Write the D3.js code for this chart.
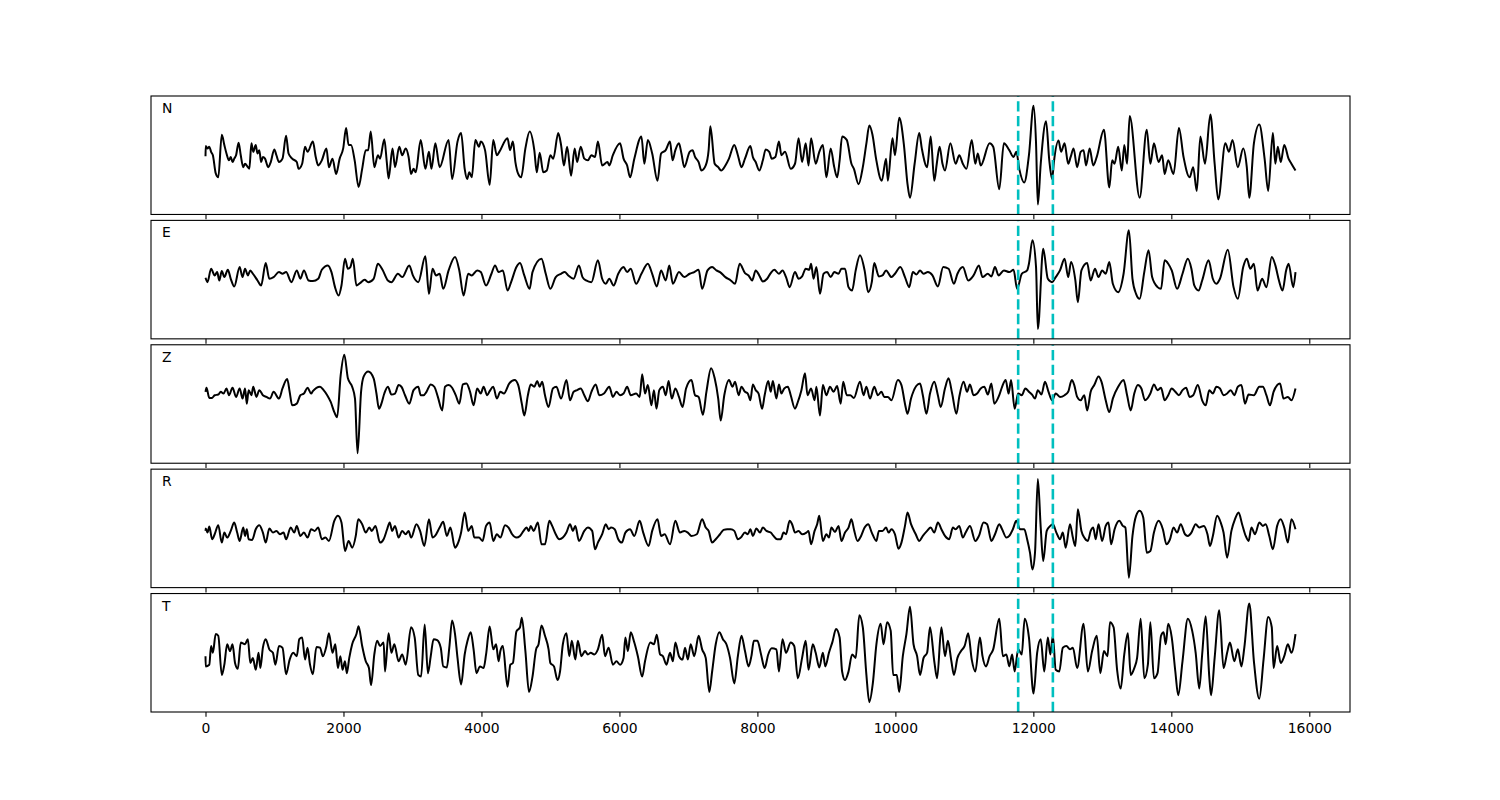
<!DOCTYPE html>
<html>
<head>
<meta charset="utf-8">
<script src="https://cdn.jsdelivr.net/npm/d3@7"></script>
<style>
  body { margin: 0; background: #fff; }
  text { font-family: "DejaVu Sans", sans-serif; }
</style>
</head>
<body>
<div id="container"></div>
<script>
let w = 1500;
let h = 800;

// channel names, top to bottom
let channels = ["N", "E", "Z", "R", "T"];
// the two picks (sample index)
let picks = [11780, 12283];
let xTicks = [0, 2000, 4000, 6000, 8000, 10000, 12000, 14000, 16000];

// [sample, amplitude] (local peaks and troughs)
let traceN = [
[0,-8],[3,22],[29,15],[55,20],[81,5],[107,-5],[148,-58],[185,-70],[236,55],[273,25],[304,0],[340,-20],[366,-10],[392,-25],[417,-15],[443,-5],[480,32],[511,-5],[547,-40],[573,-30],[614,-40],[635,-45],[666,30],[692,5],[728,25],[754,0],[780,10],[806,-25],[832,-10],[863,-15],[909,-40],[946,-25],[997,12],[1028,-5],[1065,-25],[1116,-15],[1168,52],[1204,0],[1256,-15],[1323,-25],[1349,-45],[1401,-30],[1443,20],[1479,5],[1556,35],[1598,-10],[1634,-35],[1686,-20],[1753,15],[1789,-40],[1841,-15],[1893,-60],[1945,-15],[1996,15],[2038,75],[2074,25],[2110,25],[2162,-20],[2219,-98],[2271,-45],[2323,10],[2359,10],[2395,65],[2447,-40],[2499,-5],[2530,-15],[2592,42],[2628,-25],[2654,-73],[2711,15],[2747,-40],[2809,20],[2851,-5],[2902,15],[2944,-10],[2980,-60],[3016,-45],[3047,-55],[3120,40],[3187,-45],[3239,5],[3275,-45],[3332,30],[3394,-40],[3524,40],[3575,-75],[3653,35],[3705,60],[3757,-45],[3793,-75],[3824,-55],[3860,-70],[3912,40],[3964,20],[3990,35],[4052,10],[4119,-92],[4171,40],[4223,-5],[4259,5],[4378,45],[4414,10],[4456,35],[4492,-25],[4533,-60],[4575,-70],[4637,15],[4699,65],[4766,10],[4802,-55],[4844,2],[4896,-55],[4947,-50],[4999,-5],[5041,-15],[5113,60],[5154,25],[5196,-35],[5242,20],[5299,-65],[5351,15],[5387,-25],[5439,20],[5491,-15],[5543,-20],[5594,-5],[5646,-10],[5688,35],[5750,-35],[5827,-25],[5853,-35],[5905,-5],[6009,30],[6060,-15],[6112,-35],[6154,-70],[6216,-15],[6319,50],[6361,-30],[6412,40],[6475,0],[6552,-80],[6604,0],[6671,10],[6733,35],[6770,-20],[6811,10],[6863,30],[6899,0],[6940,-40],[7018,5],[7060,10],[7096,-10],[7148,-25],[7189,-50],[7251,-35],[7293,10],[7318,80],[7381,-30],[7432,-40],[7474,-50],[7536,-35],[7588,-15],[7665,25],[7717,-5],[7769,-40],
[7820,-15],[7898,22],[7934,-10],[7975,-25],[8027,-50],[8079,-20],[8120,12],[8172,5],[8208,-15],[8260,-10],[8312,35],[8348,-5],[8400,5],[8483,-45],[8545,-30],[8597,45],[8648,-25],[8700,30],[8741,-35],[8778,45],[8845,-30],[8897,5],[8949,25],[9000,-70],[9062,15],[9114,-40],[9156,-70],[9192,-20],[9228,50],[9295,40],[9363,-30],[9399,-45],[9466,-90],[9528,-40],[9580,30],[9622,82],[9668,55],[9720,-15],[9803,-80],[9865,-15],[9891,-80],[9958,45],[9994,-5],[10056,105],[10124,25],[10176,-90],[10212,-130],[10279,-30],[10346,60],[10383,15],[10460,-40],[10512,50],[10564,-80],[10600,-30],[10641,20],[10683,-30],[10719,-50],[10797,30],[10874,-30],[10926,-5],[10978,-30],[11030,-45],[11107,40],[11159,-30],[11195,0],[11237,-35],[11366,30],[11418,20],[11506,-105],[11573,30],[11651,10],[11713,-10],[11754,5],[11796,-45],[11868,-85],[11936,-5],[12003,140],[12039,30],[12065,-150],[12107,-30],[12184,95],[12231,-20],[12272,-75],[12298,-25],[12365,38],[12402,5],[12453,30],[12505,-30],[12541,-10],[12583,15],[12635,-40],[12686,5],[12728,10],[12764,-35],[12816,15],[12868,-35],[12919,-10],[13023,70],[13101,-100],[13142,-20],[13178,-30],[13230,20],[13282,-50],[13318,25],[13359,-30],[13396,110],[13541,-130],[13644,70],[13696,-30],[13748,30],[13815,-25],[13867,-5],[13903,-60],[13955,-20],[14032,-60],[14110,75],[14177,-10],[14265,-70],[14317,-40],[14369,-110],[14421,50],[14488,-30],[14566,115],[14628,-30],[14680,-135],[14783,30],[14835,5],[14887,40],[14964,-40],[15042,15],[15094,-40],[15130,-130],[15197,30],[15275,85],[15352,-15],[15404,-110],[15472,60],[15508,-30],[15544,20],[15586,-25],[15637,25],[15699,-15],[15741,-30],[15800,-50]
];

let traceE = [
[0,-2],[29,-15],[81,25],[133,5],[169,15],[200,-10],[236,18],[273,0],[324,22],[366,-5],[417,-28],[495,30],[537,0],[573,25],[614,5],[650,20],[687,10],[754,-10],[806,-25],[873,42],[925,-5],[987,0],[1065,15],[1116,10],[1168,15],[1246,-15],[1323,20],[1375,-5],[1427,20],[1494,-10],[1556,-12],[1634,-5],[1686,22],[1774,35],[1826,15],[1877,-30],[1929,-55],[1971,-25],[2022,55],[2064,25],[2100,30],[2136,55],[2188,-25],[2240,-18],[2307,-8],[2359,-15],[2437,-5],[2499,40],[2566,22],[2644,-10],[2695,-15],[2789,10],[2851,0],[2954,35],[3006,5],[3084,-15],[3187,62],[3239,-50],[3291,25],[3342,5],[3394,10],[3446,-35],[3524,20],[3617,60],[3679,20],[3741,-55],[3808,10],[3860,5],[3938,20],[3990,15],[4067,-25],[4145,10],[4197,35],[4248,15],[4310,20],[4378,-40],[4430,-15],[4507,30],[4559,42],[4621,5],[4699,-35],[4740,15],[4870,55],[4932,10],[4999,-35],[5077,0],[5154,10],[5206,15],[5258,5],[5336,-5],[5413,35],[5465,0],[5517,-10],[5594,-15],[5688,50],[5750,-5],[5802,-20],[5853,-5],[5916,-25],[5983,10],[6060,30],[6112,15],[6164,25],[6242,-20],[6319,10],[6412,40],[6475,10],[6542,-28],[6604,20],[6671,-10],[6723,35],[6775,-20],[6863,15],[6940,0],[7018,10],[7085,15],[7148,22],[7199,-35],[7277,20],[7344,30],[7406,20],[7458,15],[7536,0],[7614,-10],[7676,-20],[7743,40],
[7820,12],[7872,5],[7924,-10],[7975,20],[8027,5],[8079,-13],[8141,-5],[8193,12],[8245,22],[8312,10],[8364,20],[8415,0],[8467,-30],[8545,15],[8597,-5],[8648,2],[8700,25],[8752,22],[8778,40],[8814,-5],[8855,30],[8907,-50],[8959,10],[9011,15],[9062,0],[9114,15],[9176,10],[9218,25],[9270,25],[9321,-30],[9373,-40],[9425,20],[9487,65],[9554,20],[9606,-45],[9658,-15],[9694,42],[9761,2],[9813,5],[9865,20],[9943,0],[9994,10],[10072,30],[10139,0],[10201,-30],[10253,15],[10305,8],[10357,20],[10409,10],[10471,15],[10538,5],[10616,-28],[10693,30],[10771,25],[10849,-20],[10900,10],[10978,30],[11056,-10],[11133,5],[11211,35],[11263,0],[11340,10],[11392,2],[11444,30],[11496,5],[11573,20],[11651,15],[11713,22],[11765,-35],[11832,10],[11910,20],[11936,40],[11987,110],[12039,30],[12065,-155],[12143,85],[12210,-5],[12272,-15],[12324,0],[12386,20],[12453,55],[12505,0],[12547,45],[12609,-10],[12645,-75],[12697,20],[12780,42],[12831,-10],[12893,25],[12945,0],[12997,20],[13049,10],[13101,45],[13152,-20],[13230,-45],[13308,10],[13385,140],[13437,-5],[13489,-50],[13541,-65],[13608,15],[13670,80],[13722,0],[13800,-30],[13851,-35],[13903,50],[13955,40],[14006,20],[14084,-35],[14162,10],[14239,55],[14291,25],[14333,-25],[14395,-40],[14447,-10],[14540,50],[14602,-5],[14653,-20],[14705,-5],[14819,82],[14902,-30],[14964,-65],[15042,30],[15094,55],[15145,25],[15197,40],[15249,-40],[15316,-5],[15378,-30],[15456,60],[15508,35],[15560,-10],[15612,-40],[15664,20],[15700,40],[15767,-30],[15800,15]
];

let traceZ = [
[0,30],[14,42],[55,12],[96,12],[133,20],[185,22],[221,30],[262,25],[304,40],[340,20],[392,42],[443,15],[495,40],[537,10],[573,40],[599,-5],[625,35],[666,20],[692,45],[738,15],[780,35],[832,20],[883,15],[935,10],[987,30],[1065,10],[1116,40],[1184,68],[1220,30],[1256,-10],[1323,-5],[1375,20],[1427,25],[1479,42],[1531,25],[1556,32],[1608,42],[1660,45],[1712,35],[1764,20],[1815,0],[1867,-30],[1908,-45],[1960,80],[2012,140],[2064,70],[2126,45],[2167,10],[2204,-152],[2255,30],[2292,75],[2359,90],[2437,70],[2478,25],[2514,-20],[2550,-5],[2592,25],[2644,45],[2695,22],[2747,25],[2799,50],[2840,45],[2892,20],[2954,-5],[3016,35],[3084,45],[3120,20],[3161,20],[3203,30],[3265,52],[3317,45],[3368,15],[3431,-25],[3472,45],[3524,50],[3575,42],[3627,20],[3679,-5],[3731,52],[3783,55],[3835,30],[3886,-10],[3938,40],[3990,25],[4031,45],[4083,20],[4119,32],[4171,45],[4223,10],[4274,30],[4326,25],[4404,55],[4481,65],[4533,50],[4585,-5],[4621,-40],[4673,20],[4714,52],[4766,45],[4808,62],[4844,45],[4880,60],[4921,20],[4973,-15],[5035,40],[5087,45],[5154,10],[5232,65],[5284,5],[5336,30],[5387,35],[5439,40],[5491,20],[5543,2],[5594,30],[5656,52],[5708,20],[5776,25],[5853,45],[5905,15],[5957,30],[6009,20],[6060,25],[6112,45],[6164,20],[6242,25],[6293,15],[6330,82],[6371,25],[6412,50],[6464,-10],[6500,35],[6537,-20],[6578,35],[6630,45],[6671,20],[6713,62],[6759,10],[6811,40],[6863,15],[6915,-15],[6966,40],[7044,65],[7096,20],[7148,15],[7210,-38],[7261,30],[7329,100],[7381,70],[7432,10],[7468,-55],[7520,20],[7588,65],[7639,45],[7676,60],[7728,20],[7769,45],
[7820,30],[7861,25],[7898,5],[7934,52],[7975,35],[8017,25],[8068,-20],[8105,20],[8157,62],[8193,30],[8224,62],[8276,10],[8312,52],[8348,25],[8389,40],[8441,45],[8483,20],[8545,-20],[8586,0],[8638,35],[8690,85],[8726,20],[8778,40],[8829,5],[8855,45],[8907,-40],[8949,50],[9000,20],[9052,45],[9104,30],[9156,47],[9207,-5],[9244,60],[9295,20],[9347,20],[9399,12],[9487,60],[9539,20],[9580,45],[9632,10],[9694,45],[9746,20],[9798,30],[9839,15],[9891,15],[9943,5],[10036,65],[10088,50],[10139,-5],[10176,-35],[10227,10],[10305,48],[10357,55],[10398,20],[10450,-35],[10502,25],[10564,60],[10616,20],[10657,-15],[10719,40],[10771,70],[10823,25],[10885,-35],[10926,15],[10988,60],[11040,30],[11081,52],[11133,20],[11185,25],[11237,40],[11289,45],[11340,22],[11392,55],[11433,-5],[11506,20],[11547,45],[11599,65],[11641,25],[11677,65],[11729,-20],[11780,25],[11832,20],[11884,40],[11936,30],[11987,20],[12024,10],[12065,35],[12117,22],[12169,60],[12220,30],[12272,5],[12324,25],[12386,15],[12453,20],[12505,30],[12557,65],[12593,50],[12635,15],[12686,5],[12738,20],[12780,-25],[12831,30],[12883,50],[12945,75],[12987,60],[13049,5],[13101,-30],[13152,10],[13230,45],[13308,65],[13359,20],[13411,-25],[13463,25],[13515,50],[13566,40],[13618,5],[13696,25],[13748,52],[13800,35],[13851,42],[13903,5],[13955,20],[14006,40],[14058,30],[14110,20],[14162,35],[14214,42],[14265,15],[14317,20],[14384,50],[14447,5],[14498,-10],[14550,35],[14602,25],[14653,45],[14705,40],[14757,20],[14809,25],[14861,35],[14913,20],[14964,45],[15016,50],[15068,-5],[15120,22],[15197,20],[15275,45],[15327,45],[15378,20],[15430,-10],[15482,30],[15534,50],[15575,55],[15627,10],[15689,15],[15741,5],[15800,40]
];

let traceR = [
[0,-15],[3,-8],[29,-20],[55,-2],[96,-40],[133,-25],[185,2],[236,-50],[273,-20],[314,-35],[366,-15],[417,10],[459,-20],[495,-45],[547,-5],[573,-30],[599,-10],[625,-40],[676,-42],[728,-10],[780,2],[832,-20],[873,-50],[925,-8],[977,-20],[1028,-15],[1080,-25],[1132,-20],[1168,-40],[1235,-5],[1287,-20],[1323,0],[1375,-30],[1427,-20],[1479,-35],[1531,-10],[1582,-15],[1634,-5],[1686,-40],[1738,-35],[1789,-45],[1867,15],[1919,30],[1971,10],[2022,-75],[2074,-45],[2126,-65],[2178,-30],[2214,20],[2271,5],[2323,-20],[2374,-5],[2411,-15],[2463,0],[2530,-50],[2582,-40],[2633,-10],[2670,10],[2706,-15],[2747,0],[2799,-35],[2851,-15],[2902,-25],[2944,-15],[2980,-35],[3058,5],[3110,-15],[3172,-60],[3239,20],[3291,-35],[3327,-30],[3394,-5],[3446,12],[3498,-30],[3550,-5],[3617,-65],[3653,-55],[3705,-20],[3757,40],[3808,-15],[3860,0],[3896,-35],[3964,-35],[4016,-45],[4067,0],[4119,10],[4171,-45],[4223,-25],[4274,-35],[4342,2],[4393,-5],[4445,-25],[4507,-35],[4559,-30],[4611,-15],[4652,-5],[4688,-15],[4714,0],[4756,-15],[4818,10],[4870,-55],[4921,-55],[4984,15],[5025,0],[5077,-25],[5128,-40],[5180,-35],[5232,-20],[5284,5],[5325,-15],[5361,0],[5413,-45],[5491,-15],[5543,-5],[5605,-15],[5646,-70],[5688,-50],[5750,-25],[5802,5],[5843,-10],[5879,-5],[5931,-10],[5983,-40],[6035,-50],[6086,-20],[6154,-10],[6216,-30],[6293,15],[6345,-20],[6423,-60],[6475,-15],[6552,20],[6604,-30],[6656,-25],[6733,-55],[6811,15],[6878,-20],[6940,-15],[6992,-20],[7044,-30],[7122,-25],[7199,20],[7251,-5],[7293,-15],[7344,-50],[7396,-40],[7458,-25],[7510,-12],[7562,-10],[7614,-10],[7665,-15],[7717,-40],[7759,-35],
[7820,-20],[7861,-25],[7898,-10],[7934,-30],[7986,-8],[8037,-20],[8079,-5],[8131,-15],[8193,-20],[8234,-30],[8286,-40],[8338,-40],[8379,-20],[8415,-25],[8467,15],[8503,5],[8545,-20],[8597,-15],[8648,-25],[8710,-20],[8741,-15],[8778,-55],[8829,-15],[8866,5],[8897,30],[8949,-45],[9000,-25],[9037,-35],[9073,-5],[9125,-18],[9176,0],[9218,-45],[9270,-20],[9321,-5],[9363,20],[9399,-10],[9451,-45],[9503,-30],[9554,-5],[9606,5],[9658,-20],[9725,-45],[9761,-15],[9813,-15],[9865,-5],[9901,-20],[9943,-10],[9994,-25],[10046,-68],[10088,-50],[10139,0],[10176,40],[10227,5],[10295,-25],[10346,-45],[10398,-30],[10460,-15],[10512,-5],[10564,-20],[10616,10],[10667,-10],[10719,-30],[10781,-40],[10833,-5],[10874,-10],[10926,0],[10978,-35],[11019,-20],[11081,0],[11159,-45],[11211,-30],[11278,10],[11330,5],[11392,-45],[11444,-25],[11506,5],[11547,-10],[11609,-35],[11651,-30],[11703,-10],[11754,15],[11806,-10],[11868,-10],[11910,-40],[11951,-80],[11987,-130],[12024,-80],[12065,140],[12107,-5],[12143,-105],[12194,-15],[12246,0],[12283,5],[12334,-20],[12386,-40],[12427,-20],[12469,-65],[12531,5],[12573,-35],[12609,-60],[12645,50],[12697,-15],[12738,-35],[12790,-45],[12831,-15],[12868,-5],[12904,-40],[12945,5],[12997,-45],[13049,0],[13090,10],[13127,-55],[13178,-10],[13246,15],[13297,0],[13334,-5],[13385,-155],[13437,-30],[13489,30],[13541,45],[13593,25],[13644,-80],[13696,-75],[13748,-20],[13815,15],[13877,-10],[13929,-55],[13981,-40],[14032,-5],[14084,-20],[14136,5],[14198,-25],[14239,-30],[14291,-20],[14353,5],[14405,-5],[14472,0],[14524,-25],[14560,-60],[14602,-30],[14664,30],[14716,10],[14757,-20],[14809,-95],[14871,-15],[14923,20],[14975,40],[15026,5],[15078,-30],[15120,-45],[15161,-5],[15213,-25],[15275,10],[15327,0],[15368,5],[15420,-30],[15472,-70],[15534,0],[15586,20],[15637,-5],[15689,-50],[15741,20],[15800,-10]
];

let traceT = [
[0,-15],[3,-45],[55,-40],[81,15],[107,-5],[148,50],[185,45],[236,-70],[273,-40],[314,20],[355,0],[392,20],[428,-35],[469,-52],[511,25],[573,20],[614,35],[650,-35],[687,-20],[728,-55],[769,-5],[795,-50],[832,10],[873,35],[925,5],[977,-5],[1013,-40],[1065,15],[1116,10],[1168,-68],[1220,-25],[1272,-5],[1323,-15],[1360,35],[1401,40],[1443,-25],[1479,10],[1515,-40],[1556,-68],[1608,12],[1660,10],[1701,-15],[1753,15],[1789,52],[1841,-5],[1882,20],[1919,-50],[1955,-15],[1986,-55],[2022,-30],[2048,-65],[2084,-20],[2126,20],[2188,50],[2219,73],[2271,15],[2323,-30],[2369,-50],[2400,-100],[2447,-10],[2488,30],[2530,15],[2582,25],[2602,-60],[2654,52],[2695,-5],[2737,20],[2799,-30],[2851,-10],[2902,-40],[2980,70],[3032,40],[3084,-70],[3125,-75],[3177,78],[3224,-65],[3265,-15],[3306,35],[3358,32],[3410,10],[3446,-45],[3498,-48],[3534,10],[3575,90],[3617,50],[3653,-20],[3705,-98],[3757,-10],[3798,30],[3845,55],[3886,5],[3928,-65],[3979,-45],[4031,-50],[4067,-10],[4119,72],[4171,5],[4212,20],[4248,-30],[4274,0],[4310,15],[4378,-105],[4419,-40],[4456,-35],[4507,58],[4559,70],[4585,98],[4637,0],[4689,-120],[4740,-75],[4792,5],[4828,20],[4870,75],[4921,45],[4973,5],[4999,-35],[5051,-45],[5103,-85],[5139,-60],[5180,20],[5232,52],[5273,-15],[5310,30],[5361,-25],[5397,30],[5449,-15],[5501,0],[5543,-10],[5584,-5],[5636,-10],[5688,5],[5750,48],[5791,-15],[5843,10],[5905,-40],[5957,-30],[6009,-40],[6060,-20],[6086,40],[6123,0],[6164,55],[6216,25],[6267,-15],[6330,-75],[6371,-30],[6449,25],[6500,20],[6542,48],[6589,-10],[6630,-15],[6682,-40],[6733,-5],[6775,-30],[6811,25],[6863,-15],[6915,-25],[6951,10],[6992,-25],[7033,20],[7085,-15],[7148,45],[7199,5],[7251,-20],[7303,-120],[7344,-60],[7396,20],[7448,55],[7500,35],[7551,20],[7603,-20],[7665,-95],[7717,-15],[7769,45],
[7820,0],[7872,-45],[7913,-15],[7949,30],[8001,30],[8053,-10],[8105,-50],[8157,-10],[8208,8],[8276,5],[8312,-60],[8364,35],[8415,-5],[8483,25],[8534,15],[8586,-80],[8648,-20],[8700,30],[8741,-55],[8803,20],[8845,-5],[8897,-48],[8949,-5],[8985,-45],[9037,-5],[9088,27],[9140,65],[9192,40],[9228,-60],[9270,-85],[9321,-60],[9373,-10],[9425,-20],[9477,105],[9528,70],[9580,-70],[9622,-150],[9673,-95],[9725,20],[9787,80],[9829,20],[9880,85],[9932,60],[9968,-70],[10020,-70],[10056,-120],[10108,-15],[10160,50],[10212,130],[10263,20],[10315,-15],[10357,-70],[10409,-20],[10460,-5],[10502,70],[10564,-30],[10605,-80],[10667,70],[10719,-15],[10761,30],[10812,-30],[10849,-70],[10900,-20],[10952,0],[11004,15],[11056,52],[11107,-25],[11159,-60],[11226,40],[11263,-15],[11314,-45],[11366,-15],[11418,5],[11506,95],[11558,-15],[11609,-10],[11651,-45],[11692,-10],[11729,-60],[11780,5],[11832,-10],[11874,95],[11936,40],[12003,-125],[12055,-5],[12107,35],[12158,-60],[12210,40],[12246,-10],[12283,45],[12324,-55],[12376,-60],[12427,10],[12479,15],[12531,5],[12573,10],[12635,-50],[12728,80],[12790,-60],[12852,0],[12919,45],[12971,-65],[13023,0],[13075,-15],[13111,85],[13163,70],[13214,-55],[13266,-110],[13318,-10],[13370,52],[13411,-70],[13463,-50],[13504,-20],[13556,95],[13608,-80],[13660,-40],[13696,85],[13748,-80],[13800,-65],[13851,45],[13888,55],[13919,20],[13955,80],[14006,40],[14058,-60],[14100,-130],[14162,-30],[14239,95],[14302,60],[14353,-5],[14405,-110],[14447,-10],[14498,102],[14550,-75],[14576,-130],[14628,-20],[14695,120],[14757,-50],[14809,-5],[14850,25],[14913,-30],[14964,5],[15016,-45],[15058,10],[15130,140],[15197,-30],[15275,-140],[15337,-25],[15404,100],[15456,70],[15482,-50],[15534,15],[15586,-35],[15637,-15],[15689,20],[15741,-5],[15800,50]
];

let traces = [traceN, traceE, traceZ, traceR, traceT];

// figure layout (matplotlib-ish subplots, hspace 0.05)
let figLeft = 151, figRight = 1350, figTop = 96, figBottom = 712;
let panelH = (figBottom - figTop) / (5 + 4 * 0.05);
let gap = panelH * 0.05;

let viz = d3.select("#container")
              .append("svg")
                .attr("width", w)
                .attr("height", h)
                .style("background-color", "#ffffff");

// x goes 0..15800 with 5% margins each side
let xMax = 15800;
let x = d3.scaleLinear()
          .domain([-0.05 * xMax, 1.05 * xMax])
          .range([figLeft, figRight]);

channels.forEach(function(name, i) {
  let y0 = figTop + i * (panelH + gap);
  let trace = traces[i];

  let ext = d3.extent(trace, d => d[1]);
  let pad = (ext[1] - ext[0]) * 0.1;
  let y = d3.scaleLinear()
            .domain([ext[0] - pad, ext[1] + pad])
            .range([y0 + panelH, y0]);

  let line = d3.line()
                .x(d => x(d[0]))
                .y(d => y(d[1]))
                .curve(d3.curveMonotoneX);

  let g = viz.append("g").attr("class", "panel");

  //trace
  g.append("path")
    .datum(trace)
    .attr("d", line)
    .attr("fill", "none")
    .attr("stroke", "black")
    .attr("stroke-width", 2)
    .attr("stroke-linejoin", "round");

  //picks, dashes start from the bottom like axvline
  g.selectAll(".pick").data(picks).enter()
    .append("line")
      .attr("class", "pick")
      .attr("x1", d => x(d))
      .attr("x2", d => x(d))
      .attr("y1", y0 + panelH)
      .attr("y2", y0)
      .attr("stroke", "#00bfbf")
      .attr("stroke-width", 2.6)
      .attr("stroke-dasharray", "10.3,4.4");

  //frame
  g.append("rect")
    .attr("x", figLeft)
    .attr("y", y0)
    .attr("width", figRight - figLeft)
    .attr("height", panelH)
    .attr("fill", "none")
    .attr("stroke", "black")
    .attr("stroke-width", 1.1);

  //channel label
  g.append("text")
    .text(name)
    .attr("x", figLeft + 11)
    .attr("y", y0 + 17)
    .style("font-size", "13.9px")
    .attr("fill", "black");

  //x axis (labels only on the last panel)
  let axis = d3.axisBottom(x)
                .tickValues(xTicks)
                .tickSize(4.86)
                .tickPadding(4.86)
                .tickFormat(i == channels.length - 1 ? d3.format("d") : "");
  let ax = g.append("g")
              .attr("transform", "translate(0," + (y0 + panelH) + ")")
              .call(axis);
  ax.select(".domain").remove();
  ax.selectAll("line").attr("stroke", "black").attr("stroke-width", 1.1);
  ax.selectAll("text")
    .attr("dy", "0.81em")
    .style("font-family", "'DejaVu Sans', sans-serif")
    .style("font-size", "13.9px")
    .attr("fill", "black");
});
</script>
</body>
</html>
